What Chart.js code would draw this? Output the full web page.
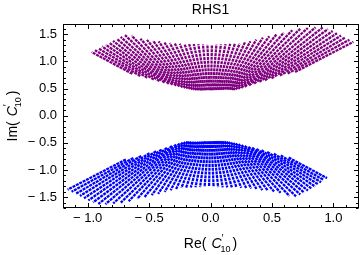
<!DOCTYPE html>
<html>
<head>
<meta charset="utf-8">
<script src="https://cdn.jsdelivr.net/npm/chart.js@4.4.1/dist/chart.umd.min.js"></script>
<style>
  html, body { margin: 0; padding: 0; background: #fff; }
  #wrap { width: 360px; height: 255px; }
</style>
</head>
<body>
<div id="wrap"><canvas id="chart" width="360" height="255"></canvas></div>
<script>
// each band is a fan of dotted strands running out from the origin:
// strand angle (deg), inner radius and outer radius
const upperAngle = [129.5, 127.9, 126.3, 124.7, 123.1, 121.5, 119.9, 118.3, 116.7, 115.1,
  113.5, 111.9, 110.3, 108.7, 107.1, 105.5, 103.9, 102.3, 100.7, 99.1,
  97.5, 95.9, 94.3, 92.7, 91.1, 89.5, 87.9, 86.3, 84.7, 83.1,
  81.5, 79.9, 78.3, 76.7, 75.1, 73.5, 71.9, 70.3, 68.7, 67.1,
  65.5, 63.9, 62.3, 60.7, 59.1, 57.5, 55.9, 54.3, 52.7, 51.1, 49.5];
const upperRIn = [1.00, 0.93, 0.87, 0.81, 0.76, 0.715, 0.68, 0.65, 0.62, 0.595,
  0.57, 0.55, 0.535, 0.52, 0.505, 0.495, 0.487, 0.481, 0.477, 0.474,
  0.472, 0.47, 0.47, 0.47, 0.47, 0.47, 0.47, 0.472, 0.474, 0.477,
  0.48, 0.485, 0.49, 0.495, 0.50, 0.502, 0.505, 0.507, 0.51, 0.525,
  0.545, 0.57, 0.60, 0.64, 0.69, 0.74, 0.79, 0.85, 0.93, 1.00, 1.06];
const upperROut = [1.52, 1.53, 1.54, 1.55, 1.56, 1.575, 1.59, 1.61, 1.625, 1.64,
  1.61, 1.53, 1.49, 1.46, 1.435, 1.40, 1.38, 1.363, 1.35, 1.34,
  1.332, 1.327, 1.323, 1.318, 1.313, 1.31, 1.313, 1.318, 1.325, 1.333,
  1.34, 1.35, 1.38, 1.41, 1.45, 1.50, 1.54, 1.59, 1.64, 1.71,
  1.76, 1.80, 1.84, 1.865, 1.86, 1.85, 1.835, 1.82, 1.81, 1.80, 1.79];

const lowerAngle = [309.5, 307.9, 306.3, 304.7, 303.1, 301.5, 299.9, 298.3, 296.7, 295.1,
  293.5, 291.9, 290.3, 288.7, 287.1, 285.5, 283.9, 282.3, 280.7, 279.1,
  277.5, 275.9, 274.3, 272.7, 271.1, 269.5, 267.9, 266.3, 264.7, 263.1,
  261.5, 259.9, 258.3, 256.7, 255.1, 253.5, 251.9, 250.3, 248.7, 247.1,
  245.5, 243.9, 242.3, 240.7, 239.1, 237.5, 235.9, 234.3, 232.7, 231.1, 229.5];
const lowerRIn = [1.00, 0.93, 0.87, 0.81, 0.76, 0.715, 0.68, 0.65, 0.62, 0.595,
  0.57, 0.55, 0.535, 0.52, 0.505, 0.495, 0.487, 0.481, 0.477, 0.474,
  0.472, 0.47, 0.47, 0.47, 0.47, 0.47, 0.47, 0.472, 0.474, 0.477,
  0.48, 0.485, 0.49, 0.495, 0.50, 0.502, 0.505, 0.507, 0.51, 0.525,
  0.545, 0.57, 0.60, 0.64, 0.69, 0.74, 0.79, 0.85, 0.93, 1.00, 1.06];
const lowerROut = [1.49, 1.50, 1.52, 1.54, 1.56, 1.575, 1.59, 1.61, 1.625, 1.64,
  1.61, 1.53, 1.49, 1.46, 1.435, 1.40, 1.38, 1.363, 1.35, 1.34,
  1.332, 1.327, 1.323, 1.318, 1.313, 1.31, 1.313, 1.318, 1.325, 1.333,
  1.34, 1.35, 1.38, 1.41, 1.45, 1.50, 1.54, 1.59, 1.64, 1.71,
  1.76, 1.80, 1.84, 1.865, 1.86, 1.85, 1.835, 1.82, 1.81, 1.80, 1.79];

const xTickValues = [-1, -0.5, 0, 0.5, 1];
const xTickLabels = ["\u2212 1.0", "\u2212 0.5", "0.0", "0.5", "1.0"];
const yTickValues = [-1.5, -1, -0.5, 0, 0.5, 1, 1.5];
const yTickLabels = ["\u2212 1.5", "\u2212 1.0", "\u2212 0.5", "0.0", "0.5", "1.0", "1.5"];

const PURPLE = "#800080";
const BLUE = "#0000ff";
const FONT = '"Liberation Sans", Arial, sans-serif';

function strands(angle, rIn, rOut, color) {
  return angle.map((deg, i) => {
    const t = deg * Math.PI / 180;
    return {
      data: [
        { x: rIn[i] * Math.cos(t), y: rIn[i] * Math.sin(t) },
        { x: rOut[i] * Math.cos(t), y: rOut[i] * Math.sin(t) },
      ],
      showLine: true,
      borderColor: color,
      borderWidth: 2.3,
      borderDash: [3, 0.8],
      pointRadius: 0,
    };
  });
}

// Re( C'_10 ) style label, centred on x = 0 at baseline y = 0
function drawCLabel(ctx, prefix) {
  ctx.font = "14px " + FONT;
  const wPre = ctx.measureText(prefix).width;
  ctx.font = "italic 14px " + FONT;
  const wC = ctx.measureText("C").width;
  ctx.font = "9px " + FONT;
  const wSub = ctx.measureText("10").width;
  ctx.font = "14px " + FONT;
  const wClose = ctx.measureText(")").width;
  const gap = 5;
  const total = wPre + gap + wC - 1 + wSub + 2 + wClose;
  let x = -total / 2;

  ctx.textAlign = "left";
  ctx.textBaseline = "alphabetic";
  ctx.fillText(prefix, x, 0);
  x += wPre + gap;
  ctx.font = "italic 14px " + FONT;
  ctx.fillText("C", x, 0);
  x += wC - 1;
  ctx.font = "9px " + FONT;
  ctx.fillText("10", x, 3.5);
  ctx.font = "10px " + FONT;
  ctx.fillText("\u2032", x + 1, -6);
  x += wSub + 2;
  ctx.font = "14px " + FONT;
  ctx.fillText(")", x, 0);
}

const frameAndText = {
  id: "frameAndText",
  afterDatasetsDraw(chart) {
    const { ctx, chartArea: a, scales } = chart;
    const xs = scales.x, ys = scales.y;
    const L = Math.round(a.left) + 0.5, R = Math.round(a.right) + 0.5;
    const T = Math.round(a.top) + 0.5, B = Math.round(a.bottom) - 0.5;

    ctx.save();
    ctx.strokeStyle = "#000";
    ctx.lineWidth = 1;
    ctx.strokeRect(L, T, R - L, B - T);

    // inward ticks on all four sides, minor every 0.1
    ctx.beginPath();
    for (let i = -12; i <= 12; i++) {
      const len = i % 5 === 0 ? 4.5 : 2.5;
      const px = Math.round(xs.getPixelForValue(i / 10)) + 0.5;
      ctx.moveTo(px, B); ctx.lineTo(px, B - len);
      ctx.moveTo(px, T); ctx.lineTo(px, T + len);
    }
    for (let i = -17; i <= 16; i++) {
      const len = i % 5 === 0 ? 4.5 : 2.5;
      const py = Math.round(ys.getPixelForValue(i / 10)) + 0.5;
      ctx.moveTo(L, py); ctx.lineTo(L + len, py);
      ctx.moveTo(R, py); ctx.lineTo(R - len, py);
    }
    ctx.stroke();

    ctx.fillStyle = "#000";
    ctx.font = "13px " + FONT;
    ctx.textBaseline = "middle";
    ctx.textAlign = "center";
    xTickValues.forEach((v, i) => {
      ctx.fillText(xTickLabels[i], xs.getPixelForValue(v), a.bottom + 10);
    });
    ctx.textAlign = "right";
    yTickValues.forEach((v, i) => {
      ctx.fillText(yTickLabels[i], a.left - 6, ys.getPixelForValue(v));
    });

    // title
    ctx.font = "14px " + FONT;
    ctx.textAlign = "center";
    ctx.fillText("RHS1", (a.left + a.right) / 2, 10);

    // axis titles
    ctx.save();
    ctx.translate((a.left + a.right) / 2, 248);
    drawCLabel(ctx, "Re(");
    ctx.restore();

    ctx.save();
    ctx.translate(17, (a.top + a.bottom) / 2);
    ctx.rotate(-Math.PI / 2);
    drawCLabel(ctx, "Im(");
    ctx.restore();

    ctx.restore();
  },
};

new Chart(document.getElementById("chart"), {
  type: "scatter",
  data: {
    datasets: [
      ...strands(upperAngle, upperRIn, upperROut, PURPLE),
      ...strands(lowerAngle, lowerRIn, lowerROut, BLUE),
    ],
  },
  options: {
    responsive: false,
    animation: false,
    layout: { padding: { left: 63, right: 2, top: 24, bottom: 47 } },
    scales: {
      x: { type: "linear", min: -1.2, max: 1.2, display: false },
      y: { type: "linear", min: -1.7, max: 1.69, display: false },
    },
    plugins: {
      legend: { display: false },
      tooltip: { enabled: false },
    },
  },
  plugins: [frameAndText],
});
</script>
</body>
</html>
